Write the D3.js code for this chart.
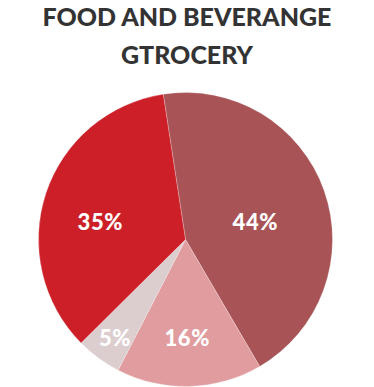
<!DOCTYPE html>
<html>
<head>
<meta charset="utf-8">
<script src="https://cdn.jsdelivr.net/npm/d3@7"></script>
<style>
  body { margin: 0; background: #fff; }
  svg { display: block; }
</style>
</head>
<body>
<div id="chart"></div>
<script>
const titleLines = ['FOOD AND BEVERANGE', 'GTROCERY'];
const categories = ['A', 'B', 'C', 'D'];
const values = [44, 16, 5, 35];
const labels = ['44%', '16%', '5%', '35%'];
const colors = ['#a85456', '#e19ca0', '#dccdcf', '#cc1f28'];

const width = 374;
const height = 387;
const cx = 185.5;
const cy = 239.5;
const radius = 147;
// label distance from centre and angle nudge (degrees) for each slice
const labelR = [72, 99, 121, 87];
const labelNudge = [5.4, 0.5, -0.7, -6.7];

const svg = d3.select('#chart')
  .append('svg')
  .attr('width', width)
  .attr('height', height);

svg.append('g')
  .selectAll('text')
  .data(titleLines)
  .join('text')
  .attr('x', 187)
  .attr('y', (d, i) => 26 + i * 38)
  .attr('text-anchor', 'middle')
  .attr('font-family', 'Lato, sans-serif')
  .attr('font-weight', 900)
  .attr('font-size', 25)
  .attr('fill', '#333')
  .text((d) => d);

const data = categories.map((c, i) => ({ category: c, value: values[i], label: labels[i] }));

const start = -0.152;
const pie = d3.pie()
  .sort(null)
  .value((d) => d.value)
  .startAngle(start)
  .endAngle(start + 2 * Math.PI);

const arcs = pie(data);

const arc = d3.arc()
  .innerRadius(0)
  .outerRadius(radius);

const g = svg.append('g')
  .attr('transform', `translate(${cx},${cy})`);

g.selectAll('path')
  .data(arcs)
  .join('path')
  .attr('d', arc)
  .attr('fill', (d, i) => colors[i])
  .attr('stroke', '#fff')
  .attr('stroke-opacity', 0.4)
  .attr('stroke-width', 0.6);

g.selectAll('text')
  .data(arcs)
  .join('text')
  .attr('transform', (d, i) => {
    const a = (d.startAngle + d.endAngle) / 2 + labelNudge[i] * Math.PI / 180;
    return `translate(${Math.sin(a) * labelR[i]},${-Math.cos(a) * labelR[i]})`;
  })
  .attr('text-anchor', 'middle')
  .attr('dy', '0.36em')
  .attr('font-family', 'Lato, sans-serif')
  .attr('font-weight', 900)
  .attr('font-size', 22)
  .attr('letter-spacing', 0.6)
  .attr('fill', '#fff')
  .text((d) => d.data.label);
</script>
</body>
</html>
